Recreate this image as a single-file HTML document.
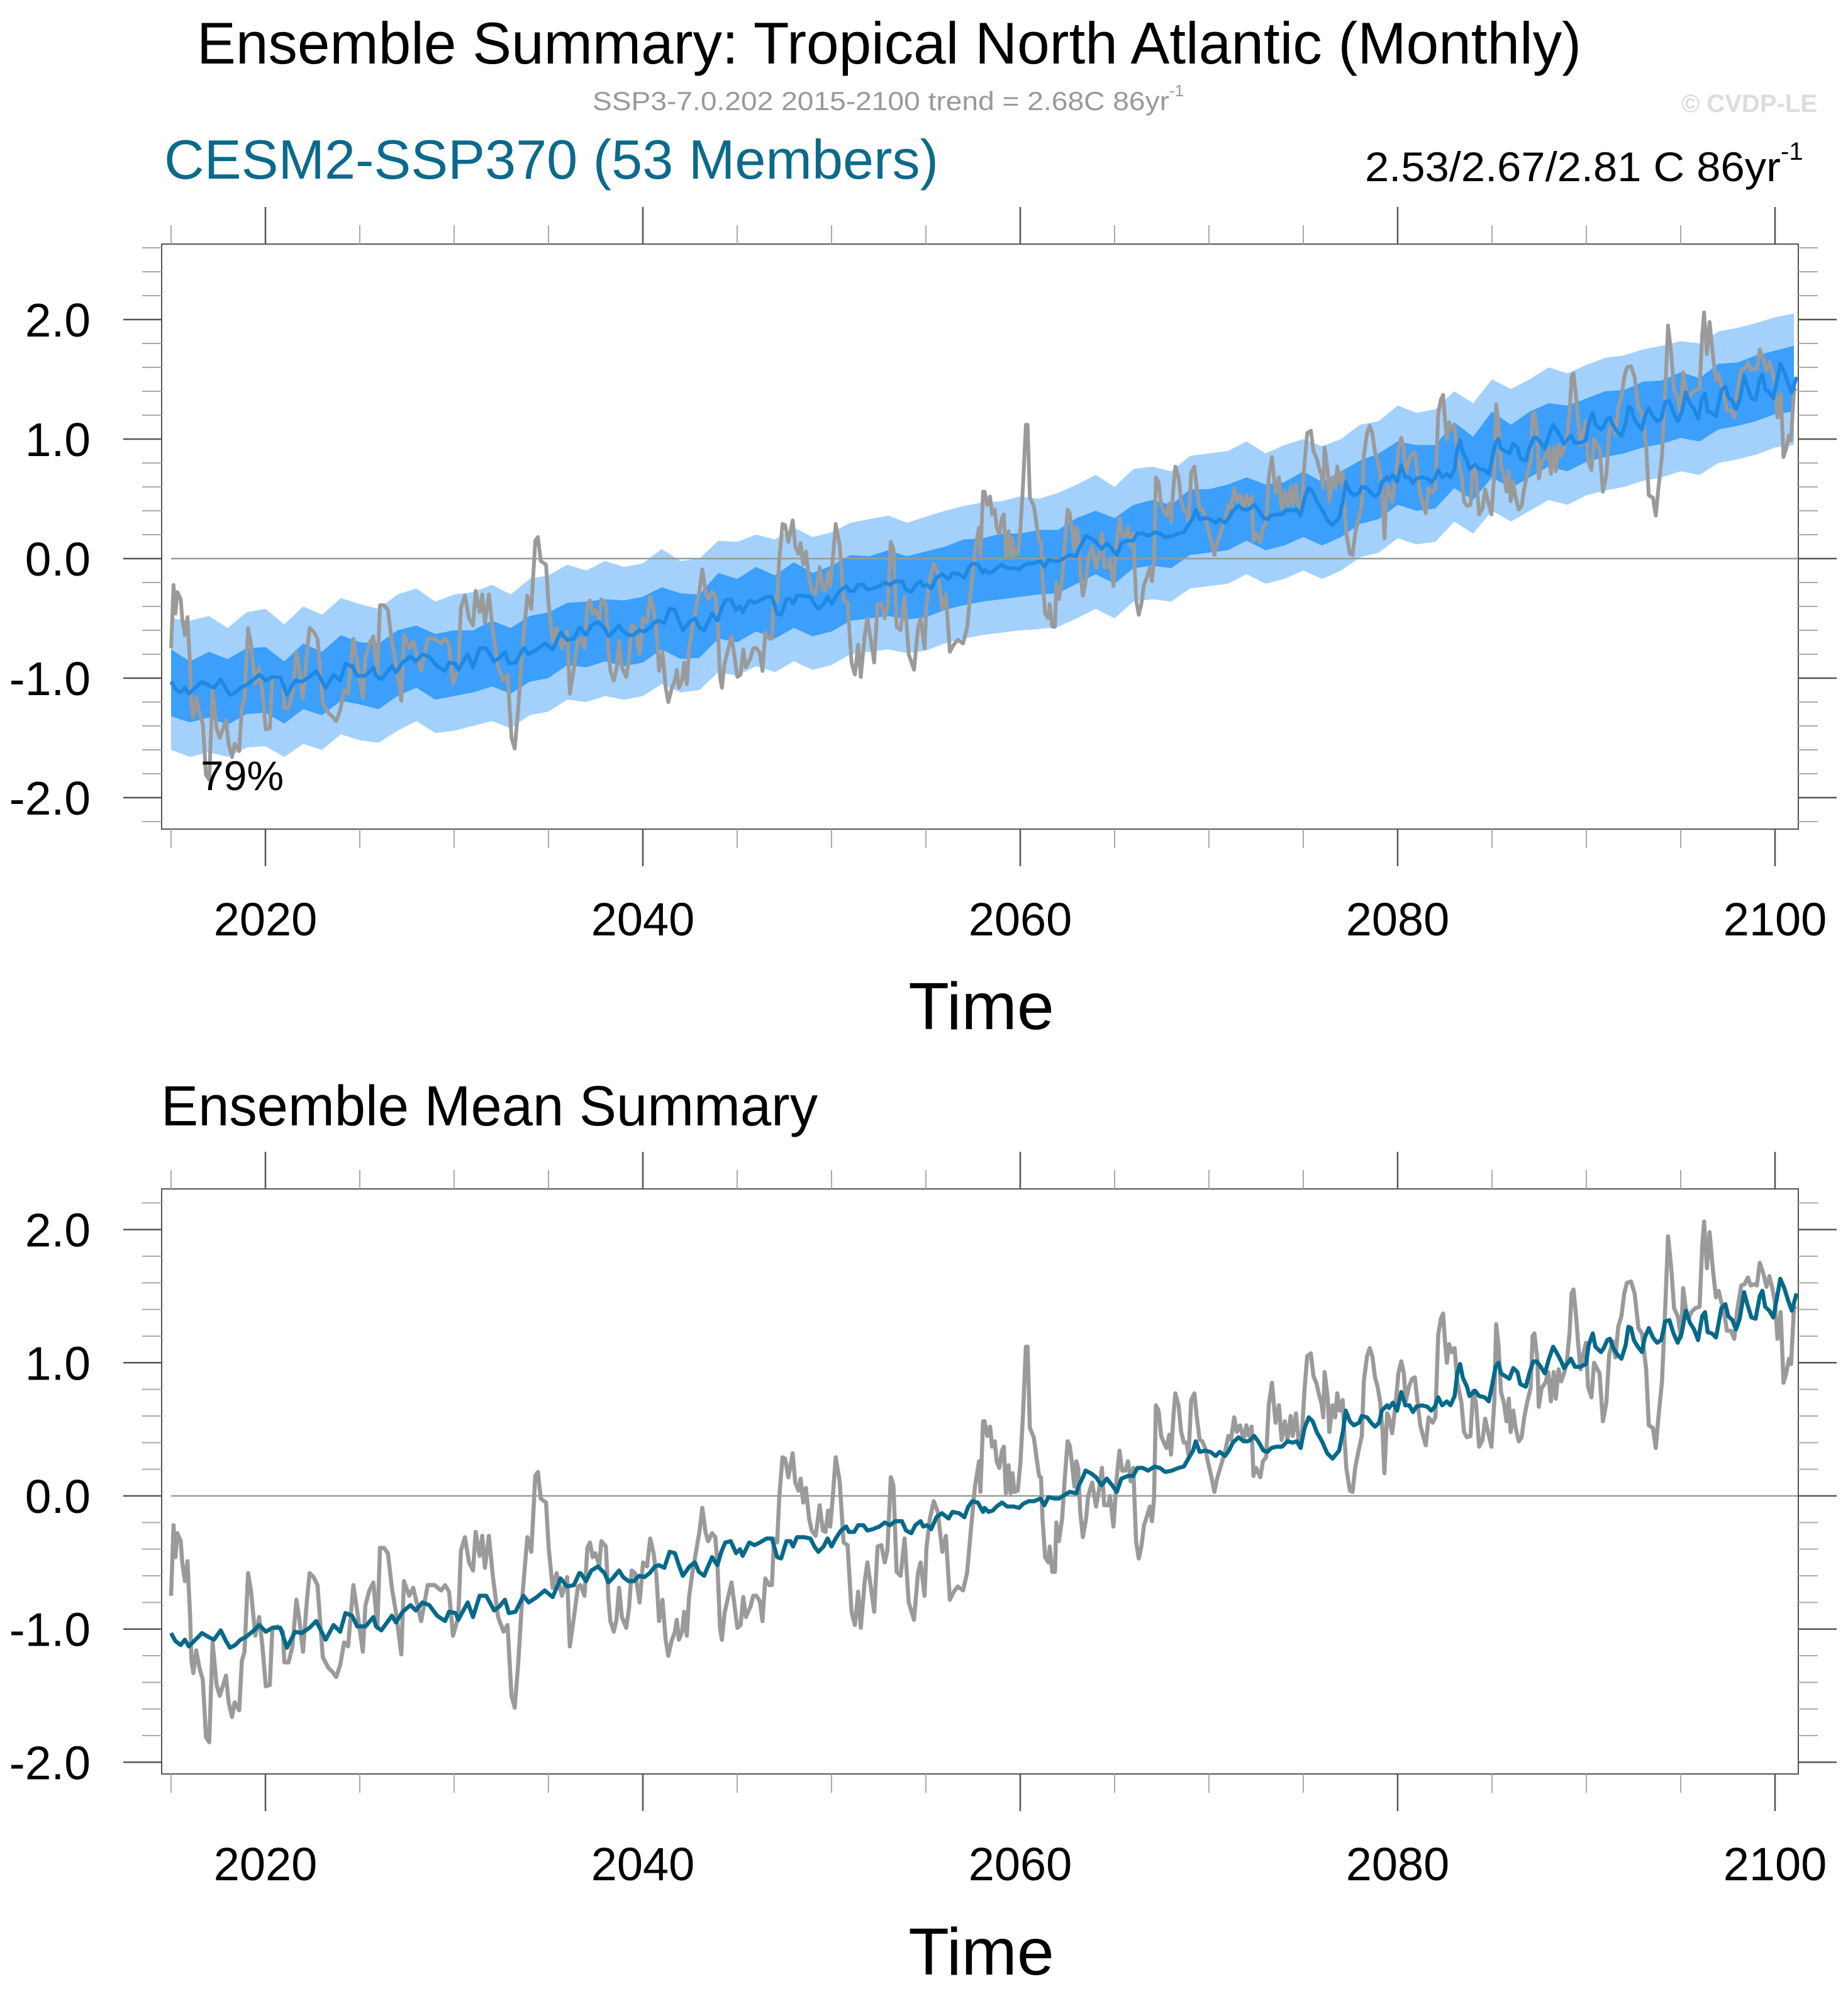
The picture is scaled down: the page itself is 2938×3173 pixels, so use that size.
<!DOCTYPE html>
<html><head><meta charset="utf-8"><title>Ensemble Summary: Tropical North Atlantic</title>
<style>html,body{margin:0;padding:0;background:#fff}svg{display:block;font-family:"Liberation Sans",Arial,sans-serif}</style>
</head><body>
<svg id="chart" xmlns="http://www.w3.org/2000/svg" width="2938" height="3173" viewBox="0 0 2938 3173">
<defs>
<clipPath id="clipTop"><rect x="257" y="388" width="2602" height="930"/></clipPath>
<clipPath id="clipBot"><rect x="257" y="1890" width="2602" height="930"/></clipPath>
</defs>
<rect x="0" y="0" width="2938" height="3173" fill="#fff"/>
<text x="313" y="101" font-size="94" textLength="2201" lengthAdjust="spacingAndGlyphs" fill="#000">Ensemble Summary: Tropical North Atlantic (Monthly)</text>
<text x="942" y="175" font-size="42" fill="#999"><tspan textLength="917" lengthAdjust="spacingAndGlyphs">SSP3-7.0.202 2015-2100 trend = 2.68C 86yr</tspan><tspan font-size="26" dy="-22">-1</tspan></text>
<text x="2889" y="178" font-size="40" font-weight="bold" fill="#dcdcdc" text-anchor="end">© CVDP-LE</text>
<text x="261" y="284" font-size="88" textLength="1231" lengthAdjust="spacingAndGlyphs" fill="#0b6a8b">CESM2-SSP370 (53 Members)</text>
<text x="2170" y="288" font-size="66" fill="#000"><tspan textLength="661" lengthAdjust="spacingAndGlyphs">2.53/2.67/2.81 C 86yr</tspan><tspan font-size="40" dy="-34">-1</tspan></text>
<g id="topPanel"></g>
<text x="319" y="1256" font-size="66" fill="#000">79%</text>
<text x="1560" y="1636" font-size="106" text-anchor="middle" fill="#000">Time</text>
<text x="256" y="1789" font-size="90" textLength="1044" lengthAdjust="spacingAndGlyphs" fill="#000">Ensemble Mean Summary</text>
<g id="botPanel"></g>
<text x="1560" y="3139" font-size="106" text-anchor="middle" fill="#000">Time</text>
</svg>
<script>
const obsYears=[
2015.0,2015.13,2015.23,2015.33,2015.51,2015.59,2015.73,2015.87,2016.01,2016.08,2016.18,2016.33,2016.5,2016.68,2016.85,2017.02,2017.2,2017.41,2017.58,2017.91,2018.05,2018.23,2018.37,2018.61,2018.75,2018.89,2019.08,2019.24,2019.46,2019.67,2019.84,2020.02,2020.23,2020.37,2020.65,2020.93,2021.0,2021.22,2021.43,2021.64,2021.78,2021.99,2022.2,2022.34,2022.55,2022.76,2023.04,2023.33,2023.54,2023.75,2023.96,2024.17,2024.38,2024.66,2024.94,2025.16,2025.3,2025.51,2025.72,2025.93,2026.07,2026.28,2026.49,2026.7,2026.92,2027.2,2027.34,2027.62,2027.83,2028.25,2028.6,2028.96,2029.31,2029.52,2029.73,2029.94,2030.22,2030.36,2030.57,2030.79,2031.0,2031.14,2031.35,2031.49,2031.63,2031.84,2032.05,2032.33,2032.62,2032.83,2033.04,2033.21,2033.39,2033.6,2033.88,2034.09,2034.3,2034.44,2034.59,2034.87,2035.01,2035.22,2035.43,2035.71,2035.99,2036.13,2036.35,2036.56,
2036.7,2036.91,2037.06,2037.2,2037.34,2037.48,2037.69,2037.8,2038.04,2038.18,2038.28,2038.46,2038.6,2038.74,2038.89,2039.12,2039.27,2039.41,2039.59,2039.83,2040.01,2040.22,2040.39,2040.57,2040.72,2040.86,2041.04,2041.21,2041.35,2041.52,2041.7,2041.8,2041.91,2042.08,2042.19,2042.33,2042.45,2042.62,2042.83,2043.01,2043.15,2043.32,2043.46,2043.67,2043.84,2043.95,2044.09,2044.19,2044.33,2044.52,2044.7,2044.84,2045.01,2045.18,2045.32,2045.46,2045.71,2045.85,2046.02,2046.2,2046.34,2046.49,2046.7,2046.84,2046.95,2047.12,2047.23,2047.4,2047.54,2047.71,2047.94,2048.08,2048.25,2048.36,2048.5,2048.64,2048.81,2048.95,2049.16,2049.37,2049.54,2049.68,2049.82,2049.93,2050.07,2050.22,2050.43,2050.64,2050.85,2051.06,2051.24,2051.41,2051.55,2051.76,2051.9,2052.12,2052.26,2052.44,2052.64,2052.82,2052.96,2053.14,2053.28,2053.45,2053.66,2053.87,2054.09,2054.37,2054.58,2054.72,2054.93,2055.03,2055.21,2055.42,2055.63,2055.87,2056.06,2056.27,2056.48,2056.69,2056.97,2057.18,2057.37,2057.6,2057.82,2057.89,2058.03,
2058.11,2058.25,2058.4,2058.51,2058.65,2058.75,2058.89,2059.03,2059.13,2059.24,2059.38,2059.49,2059.59,2059.69,2059.87,2060.01,2060.15,2060.3,2060.39,2060.51,2060.72,2060.86,2061.0,2061.1,2061.18,2061.32,2061.49,2061.56,2061.7,2061.84,2061.91,2062.05,2062.22,2062.36,2062.51,2062.62,2062.73,2062.87,2062.97,2063.07,2063.18,2063.32,2063.49,2063.6,2063.81,2064.02,2064.17,2064.33,2064.45,2064.66,2064.76,2064.94,2065.12,2065.26,2065.4,2065.57,2065.71,2065.85,2065.99,2066.14,2066.28,2066.42,2066.56,2066.7,2066.87,2066.98,2067.09,2067.19,2067.33,2067.47,2067.61,2067.75,2067.9,2067.99,2068.13,2068.22,2068.39,2068.53,2068.67,2068.81,2068.92,2069.06,2069.23,2069.35,2069.51,2069.65,2069.8,2069.94,2070.15,2070.29,2070.43,2070.64,2070.85,2071.03,2071.17,2071.34,2071.48,2071.65,2071.84,2071.98,2072.12,2072.26,2072.36,2072.5,2072.72,2072.86,2073.03,2073.17,2073.34,2073.53,2073.71,2073.85,2074.02,2074.16,2074.33,2074.44,2074.61,2074.75,2074.89,2075.07,2075.21,2075.4,2075.54,2075.71,2075.85,2075.96,2076.06,2076.13,2076.3,2076.38,2076.55,2076.69,2076.8,2076.94,2077.09,2077.18,2077.28,2077.47,2077.61,2077.75,2077.93,2078.1,2078.21,2078.38,2078.52,2078.66,2078.8,2078.94,2079.08,2079.2,2079.3,2079.44,
2079.54,2079.71,2079.9,2080.04,2080.19,2080.33,2080.43,2080.62,2080.77,2080.91,2081.06,2081.2,2081.35,2081.49,2081.64,2081.86,2082.0,2082.15,2082.29,2082.41,2082.51,2082.61,2082.73,2082.87,2083.02,2083.16,2083.38,2083.52,2083.67,2083.86,2084.0,2084.15,2084.32,2084.5,2084.64,2084.79,2084.97,2085.12,2085.22,2085.34,2085.48,2085.63,2085.77,2085.89,2085.99,2086.13,2086.24,2086.42,2086.57,2086.71,2086.86,2087.05,2087.15,2087.25,2087.4,2087.48,2087.63,2087.83,2087.98,2088.12,2088.27,2088.38,2088.53,2088.67,2088.82,2088.96,2089.11,2089.22,2089.32,2089.47,2089.57,2089.69,2089.83,2089.98,2090.09,2090.27,2090.41,2090.59,2090.7,2090.88,2091.06,2091.21,2091.4,2091.54,2091.69,2091.86,2092.01,2092.15,2092.37,2092.56,2092.76,2092.95,2093.17,2093.31,2093.53,2093.68,2093.82,2094.01,2094.18,2094.33,2094.5,2094.65,2094.84,2095.02,2095.13,2095.27,2095.42,2095.56,2095.78,2096.0,2096.14,2096.24,2096.39,2096.53,2096.72,2096.87,2097.01,2097.16,2097.3,2097.45,2097.66,2097.84,2097.98,2098.21,2098.39,2098.56,2098.71,2098.9,2099.04,2099.19,2099.38,2099.55,2099.7,2099.84,2099.99,2100.13,2100.3,2100.45,2100.59,2100.74,2100.85,2101.0,2101.14];
const obsVals=[
-0.75,-0.22,-0.46,-0.28,-0.34,-0.5,-0.64,-0.49,-0.91,-1.24,-1.33,-1.16,-1.29,-1.38,-1.81,-1.85,-1.1,-1.42,-1.5,-1.35,-1.55,-1.66,-1.55,-1.61,-1.24,-1.17,-0.58,-0.72,-1.05,-0.91,-1.13,-1.43,-1.42,-0.99,-0.98,-1.02,-1.25,-1.25,-1.13,-0.78,-0.91,-1.17,-0.78,-0.58,-0.61,-0.67,-1.21,-1.29,-1.32,-1.36,-1.27,-1.1,-1.13,-0.67,-0.94,-1.17,-0.82,-0.71,-0.65,-0.99,-0.39,-0.39,-0.43,-0.69,-0.88,-1.19,-0.64,-0.75,-0.69,-0.94,-0.67,-0.67,-0.71,-0.67,-0.72,-1.05,-0.91,-0.41,-0.31,-0.5,-0.56,-0.27,-0.45,-0.3,-0.54,-0.3,-0.6,-0.91,-1.02,-0.97,-1.5,-1.59,-1.27,-0.78,-0.31,-0.42,0.15,0.18,-0.02,-0.05,-0.39,-0.69,-0.58,-0.75,-0.61,-1.13,-0.91,-0.68,
-0.67,-0.75,-0.39,-0.35,-0.46,-0.43,-0.52,-0.34,-0.38,-0.78,-0.94,-1.02,-0.93,-0.69,-0.91,-0.99,-0.84,-0.56,-0.58,-0.8,-0.5,-0.53,-0.32,-0.43,-0.6,-0.94,-0.78,-1.08,-1.2,-1.09,-1.02,-0.93,-1.08,-1.02,-0.87,-1.05,-0.76,-0.58,-0.41,-0.26,-0.09,-0.27,-0.34,-0.28,-0.31,-0.5,-0.99,-1.08,-0.88,-0.76,-0.65,-0.8,-0.99,-0.97,-0.76,-0.91,-0.83,-0.75,-0.75,-0.79,-0.94,-0.62,-0.67,-0.67,-0.32,-0.35,-0.01,0.29,0.28,0.14,0.32,0.1,0.04,0.13,-0.05,0.06,-0.17,-0.26,-0.3,-0.07,-0.26,-0.27,-0.11,-0.23,0,0.29,0.11,-0.35,-0.37,-0.87,-0.97,-0.72,-0.99,-0.64,-0.5,-0.72,-0.87,-0.38,-0.37,-0.5,-0.41,0.14,0.08,-0.57,-0.6,-0.32,-0.8,-0.93,-0.58,-0.5,-0.75,-0.39,-0.17,-0.04,-0.12,-0.42,-0.3,-0.78,-0.72,-0.68,-0.71,-0.58,-0.28,0.07,0.26,0.03,0.56,
0.56,0.45,0.52,0.37,0.41,0.26,0.21,0.34,0.37,0.02,0.23,0.02,0.17,0.03,0.04,0.25,0.62,1.12,1.12,0.51,0.44,0.29,0.15,0.14,-0.17,-0.46,-0.5,-0.38,-0.57,-0.57,-0.2,-0.34,-0.17,0.13,0.41,0.38,0.26,0.07,0.26,0.21,-0.12,-0.31,-0.17,0,0.1,-0.08,0.04,0.21,-0.07,-0.07,0,-0.23,0.15,0.34,0.19,0.19,0.26,0.11,0.21,-0.34,-0.47,-0.38,-0.22,-0.16,-0.08,-0.19,-0.02,0.68,0.64,0.45,0.4,0.36,0.46,0.31,0.62,0.77,0.68,0.48,0.4,0.4,0.31,0.72,0.77,0.6,0.42,0.41,0.36,0.26,0.13,0.03,0.13,0.23,0.33,0.45,0.42,0.59,0.48,0.53,0.42,0.53,0.45,0.52,0.15,0.21,0.14,0.26,0.29,0.68,0.85,0.55,0.68,0.42,0.56,0.42,0.6,0.45,0.62,0.42,0.37,0.81,1.05,1.07,0.9,0.84,0.75,0.7,0.59,0.93,0.73,0.48,0.68,0.59,0.77,0.64,0.72,0.45,0.21,0.04,0.03,0.21,0.34,0.45,0.86,1.05,1.11,1.05,0.89,0.82,0.7,0.48,0.17,0.62,
0.59,0.47,0.7,0.92,1.01,0.92,0.71,0.83,0.88,0.89,0.7,0.53,0.45,0.38,0.59,0.55,0.59,1.21,1.33,1.37,1.16,1.0,1.14,1.08,1.11,0.86,0.7,0.48,0.44,0.45,0.79,0.7,0.37,0.42,0.58,0.48,0.37,0.7,1.29,1.14,0.78,0.7,0.56,0.73,0.48,0.64,0.52,0.41,0.44,0.59,0.7,0.81,1.2,1.22,1.03,0.67,0.81,0.85,0.93,0.71,0.93,0.73,0.95,0.86,0.92,1.0,1.22,1.52,1.55,1.33,1.14,0.95,1.06,1.15,0.82,0.74,1.0,0.95,0.92,0.56,0.7,1.06,1.16,1.04,1.27,1.35,1.52,1.6,1.61,1.52,1.26,1.22,0.95,0.53,0.51,0.36,0.59,0.86,1.41,1.95,1.71,1.41,1.35,1.19,1.56,1.41,1.33,1.38,1.41,1.42,1.87,2.06,1.71,1.98,1.68,1.49,1.54,1.45,1.38,1.24,1.24,1.18,1.38,1.58,1.59,1.64,1.58,1.59,1.58,1.75,1.67,1.57,1.65,1.57,1.46,1.18,1.38,0.85,0.92,1.03,0.99,1.41,1.42];
const meanYears=[
2015.0,2015.23,2015.51,2015.73,2015.94,2016.29,2016.64,2016.99,2017.27,2017.63,2017.91,2018.12,2018.4,2018.68,2018.96,2019.39,2019.67,2020.02,2020.37,2020.79,2021.14,2021.57,2021.92,2022.34,2022.69,2023.19,2023.61,2023.96,2024.24,2024.59,2024.87,2025.3,2025.72,2025.86,2026.14,2026.7,2026.92,2027.27,2027.69,2027.97,2028.32,2028.68,2029.1,2029.52,2029.73,2030.08,2030.22,2030.72,2031.0,2031.35,2031.7,2032.12,2032.4,2032.69,2032.9,2033.25,2033.67,2033.95,2034.38,2034.8,2035.22,2035.64,2035.99,2036.35,2036.63,
2036.7,2036.99,2037.27,2037.62,2037.97,2038.18,2038.39,2038.74,2038.96,2039.24,2039.52,2039.8,2040.08,2040.36,2040.64,2040.86,2041.14,2041.42,2041.7,2041.91,2042.12,2042.47,2042.76,2042.97,2043.25,2043.39,2043.67,2043.95,2044.16,2044.37,2044.66,2044.94,2045.15,2045.29,2045.64,2045.92,2046.2,2046.56,2046.84,2047.12,2047.33,2047.61,2047.82,2047.96,2048.17,2048.53,2048.88,2049.09,2049.3,2049.58,2049.79,2050.0,2050.22,2050.5,2050.78,2050.92,2051.2,2051.41,2051.69,2051.9,2052.19,2052.54,2052.82,2053.1,2053.38,2053.73,2053.95,2054.23,2054.44,2054.72,2054.86,2055.07,2055.28,2055.56,2055.85,2056.2,2056.41,2056.76,2057.04,2057.25,2057.46,2057.75,2058.03,
2058.11,2058.32,2058.54,2058.75,2059.03,2059.31,2059.66,2059.94,2060.15,2060.44,2060.72,2061.07,2061.28,2061.49,2061.84,2062.05,2062.27,2062.62,2062.97,2063.11,2063.32,2063.46,2063.74,2064.02,2064.31,2064.59,2064.87,2065.12,2065.36,2065.71,2065.99,2066.21,2066.49,2066.77,2067.12,2067.4,2067.68,2068.04,2068.39,2068.67,2068.95,2069.16,2069.3,2069.51,2069.8,2070.08,2070.36,2070.57,2070.85,2071.06,2071.27,2071.56,2071.84,2072.05,2072.19,2072.4,2072.61,2072.89,2073.1,2073.31,2073.6,2073.88,2074.16,2074.44,2074.65,2074.86,2075.07,2075.29,2075.5,2075.71,2075.99,2076.27,2076.55,2076.9,2077.11,2077.25,2077.47,2077.68,2077.96,2078.1,2078.38,2078.59,2078.8,2079.02,2079.16,2079.44,
2079.54,2079.75,2079.97,2080.19,2080.41,2080.62,2080.81,2080.99,2081.28,2081.57,2081.78,2081.97,2082.15,2082.36,2082.61,2082.8,2083.02,2083.16,2083.31,2083.45,2083.67,2083.81,2084.1,2084.32,2084.61,2084.83,2085.02,2085.19,2085.34,2085.48,2085.7,2085.92,2086.13,2086.35,2086.5,2086.79,2087.0,2087.19,2087.37,2087.58,2087.8,2088.02,2088.24,2088.45,2088.67,2088.82,2089.03,2089.18,2089.4,2089.69,2089.98,2090.12,2090.34,2090.48,2090.78,2090.92,2091.11,2091.25,2091.43,2091.65,2091.86,2092.08,2092.23,2092.37,2092.52,2092.73,2092.95,2093.1,2093.31,2093.53,2093.75,2093.97,2094.18,2094.4,2094.62,2094.84,2095.05,2095.27,2095.49,2095.71,2095.92,2096.14,2096.29,2096.43,2096.65,2096.87,2097.16,2097.37,2097.52,2097.74,2097.93,2098.13,2098.36,2098.53,2098.75,2098.97,2099.19,2099.33,2099.48,2099.7,2099.91,2100.13,2100.28,2100.49,2100.71,2100.89,2101.14];
const meanVals=[
-1.03,-1.09,-1.12,-1.08,-1.13,-1.08,-1.03,-1.06,-1.08,-1.01,-1.09,-1.14,-1.12,-1.08,-1.06,-1.01,-0.97,-1.02,-0.99,-0.99,-1.14,-1.02,-1.03,-0.99,-0.94,-1.08,-0.97,-1.02,-0.88,-0.9,-0.98,-0.98,-0.91,-0.98,-1.01,-0.9,-0.95,-0.87,-0.82,-0.86,-0.8,-0.82,-0.9,-0.94,-0.87,-0.88,-0.93,-0.8,-0.91,-0.75,-0.75,-0.86,-0.83,-0.78,-0.88,-0.87,-0.75,-0.8,-0.76,-0.71,-0.76,-0.62,-0.68,-0.67,-0.58,
-0.58,-0.64,-0.56,-0.53,-0.58,-0.65,-0.62,-0.56,-0.61,-0.64,-0.64,-0.6,-0.61,-0.58,-0.53,-0.52,-0.54,-0.42,-0.43,-0.52,-0.6,-0.53,-0.5,-0.57,-0.6,-0.55,-0.46,-0.52,-0.42,-0.35,-0.34,-0.43,-0.4,-0.45,-0.35,-0.37,-0.35,-0.32,-0.32,-0.46,-0.47,-0.34,-0.34,-0.38,-0.31,-0.31,-0.32,-0.38,-0.42,-0.38,-0.32,-0.38,-0.32,-0.26,-0.23,-0.27,-0.27,-0.22,-0.22,-0.26,-0.25,-0.23,-0.2,-0.22,-0.19,-0.19,-0.26,-0.28,-0.22,-0.19,-0.23,-0.22,-0.25,-0.16,-0.13,-0.17,-0.12,-0.13,-0.16,-0.08,-0.04,-0.05,-0.12,
-0.09,-0.12,-0.11,-0.08,-0.05,-0.08,-0.08,-0.09,-0.06,-0.04,-0.04,-0.02,-0.07,-0.01,-0.02,-0.02,0,0.03,0.02,0.08,0.14,0.19,0.17,0.14,0.08,0.13,0.08,0.03,0.13,0.15,0.15,0.21,0.21,0.19,0.22,0.21,0.18,0.19,0.21,0.22,0.29,0.34,0.41,0.33,0.34,0.33,0.3,0.33,0.3,0.34,0.4,0.44,0.41,0.41,0.42,0.45,0.41,0.34,0.33,0.36,0.37,0.37,0.41,0.4,0.41,0.36,0.51,0.59,0.56,0.48,0.41,0.32,0.28,0.34,0.49,0.64,0.56,0.53,0.55,0.6,0.59,0.55,0.52,0.55,0.64,0.68,
0.66,0.7,0.64,0.78,0.68,0.68,0.63,0.67,0.68,0.67,0.64,0.67,0.74,0.68,0.71,0.68,0.75,0.92,0.99,0.89,0.82,0.75,0.79,0.75,0.74,0.71,0.84,0.97,1.0,0.92,0.9,0.88,0.96,0.93,0.84,0.82,0.93,1.01,1.01,0.97,0.92,1.03,1.12,1.07,1.01,0.96,1.0,1.03,0.97,0.97,0.99,1.13,1.22,1.12,1.08,1.11,1.17,1.18,1.11,1.06,1.03,1.13,1.27,1.26,1.17,1.12,1.08,1.19,1.26,1.19,1.15,1.17,1.31,1.32,1.22,1.15,1.22,1.39,1.3,1.25,1.17,1.35,1.38,1.23,1.22,1.19,1.41,1.44,1.35,1.32,1.25,1.33,1.53,1.44,1.34,1.33,1.5,1.54,1.42,1.39,1.34,1.51,1.63,1.56,1.46,1.39,1.52];
const bandStartYear=2015;
const lightHi=[-0.50,-0.52,-0.48,-0.58,-0.45,-0.42,-0.55,-0.40,-0.47,-0.33,-0.38,-0.42,-0.30,-0.25,-0.36,-0.30,-0.28,-0.22,-0.30,-0.17,-0.14,-0.05,-0.10,-0.02,-0.07,-0.04,0.08,-0.02,0.00,0.15,0.14,0.20,0.16,0.26,0.18,0.22,0.30,0.33,0.36,0.30,0.35,0.40,0.44,0.47,0.48,0.52,0.50,0.55,0.62,0.70,0.60,0.75,0.77,0.73,0.86,0.88,0.90,0.98,0.88,0.95,1.00,0.94,1.00,1.12,1.15,1.28,1.22,1.25,1.40,1.30,1.50,1.42,1.50,1.60,1.55,1.62,1.68,1.70,1.75,1.78,1.82,1.80,1.90,1.93,1.97,2.02,2.05];
const lightLo=[-1.60,-1.66,-1.62,-1.66,-1.58,-1.57,-1.66,-1.55,-1.60,-1.47,-1.52,-1.54,-1.44,-1.36,-1.46,-1.44,-1.40,-1.36,-1.42,-1.31,-1.28,-1.18,-1.20,-1.15,-1.18,-1.15,-1.05,-1.12,-1.10,-0.95,-0.98,-0.90,-0.95,-0.86,-0.93,-0.89,-0.80,-0.78,-0.76,-0.79,-0.77,-0.71,-0.67,-0.64,-0.62,-0.60,-0.59,-0.57,-0.50,-0.42,-0.50,-0.36,-0.34,-0.36,-0.25,-0.23,-0.21,-0.13,-0.21,-0.17,-0.10,-0.17,-0.10,0.01,0.05,0.17,0.12,0.14,0.31,0.21,0.40,0.31,0.40,0.49,0.45,0.53,0.57,0.60,0.65,0.68,0.73,0.70,0.80,0.83,0.87,0.93,0.95];
const darkHi=[-0.76,-0.86,-0.78,-0.84,-0.75,-0.74,-0.86,-0.71,-0.78,-0.64,-0.70,-0.71,-0.60,-0.56,-0.63,-0.60,-0.60,-0.52,-0.58,-0.48,-0.45,-0.37,-0.36,-0.34,-0.35,-0.32,-0.24,-0.29,-0.30,-0.12,-0.17,-0.07,-0.14,-0.03,-0.12,-0.06,0.03,0.02,0.07,0.02,0.06,0.10,0.16,0.17,0.21,0.21,0.24,0.24,0.34,0.40,0.34,0.45,0.49,0.45,0.58,0.58,0.62,0.68,0.62,0.64,0.73,0.64,0.73,0.82,0.88,0.98,0.95,0.95,1.14,1.02,1.23,1.12,1.23,1.30,1.28,1.34,1.40,1.41,1.48,1.49,1.56,1.51,1.63,1.64,1.70,1.74,1.78];
const darkLo=[-1.32,-1.37,-1.33,-1.39,-1.30,-1.29,-1.38,-1.26,-1.31,-1.19,-1.22,-1.26,-1.15,-1.08,-1.18,-1.15,-1.12,-1.07,-1.13,-1.03,-1.00,-0.89,-0.91,-0.86,-0.90,-0.87,-0.76,-0.84,-0.83,-0.67,-0.70,-0.61,-0.67,-0.58,-0.65,-0.61,-0.52,-0.50,-0.48,-0.51,-0.49,-0.43,-0.39,-0.36,-0.34,-0.32,-0.30,-0.29,-0.21,-0.13,-0.21,-0.08,-0.06,-0.08,0.03,0.05,0.07,0.15,0.07,0.11,0.18,0.11,0.18,0.29,0.33,0.45,0.40,0.42,0.59,0.49,0.68,0.59,0.68,0.77,0.73,0.81,0.85,0.88,0.93,0.96,1.01,0.98,1.08,1.11,1.15,1.21,1.23];
const xTickYears=[2015,2020,2025,2030,2035,2040,2045,2050,2055,2060,2065,2070,2075,2080,2085,2090,2095,2100];
const xTickLabels=["2020","2040","2060","2080","2100"];
const yTickLabels=["2.0","1.0","0.0","-1.0","-2.0"];

const NS="http://www.w3.org/2000/svg";
const FX0=257, FX1=2859;
function xScale(yr){return 272+(yr-2015)*30.0;}
function mk(tag,attrs,parent){const e=document.createElementNS(NS,tag);for(const k in attrs)e.setAttribute(k,attrs[k]);parent.appendChild(e);return e;}
function linePts(ys,vs,yS){const n=Math.min(ys.length,vs.length);const p=[];for(let i=0;i<n;i++)p.push(xScale(ys[i]).toFixed(1)+","+yS(vs[i]).toFixed(1));return p.join(" ");}

function drawAxes(g,top,bot,yS,vMin,vMax,labelBase){
  const frame=mk("rect",{x:FX0,y:top,width:FX1-FX0,height:bot-top,fill:"none",stroke:"#555","stroke-width":2},g);
  
  
  xTickYears.forEach(yr=>{
    const x=xScale(yr); const major=(yr%20===0); const len=major?59:30; const col=major?"#555":"#aaa";
    const t1=mk("line",{x1:x,x2:x,y1:top-len,y2:top,stroke:col,"stroke-width":major?2.5:2},g);
    
    
    const t2=mk("line",{x1:x,x2:x,y1:bot,y2:bot+len,stroke:col,"stroke-width":major?2.5:2},g);
    
    
  });
  xTickLabels.forEach(lbl=>{
    const t=mk("text",{x:xScale(+lbl),y:labelBase,"font-size":74,"text-anchor":"middle",fill:"#000"},g);
    t.textContent=lbl;
    
    
  });
  for(let k=Math.ceil(vMin*5);k<=Math.floor(vMax*5);k++){
    const v=k/5; const y=yS(v); const major=(k%5===0); const len=major?61:31; const col=major?"#555":"#aaa";
    const a=mk("line",{x1:FX0-len,x2:FX0,y1:y,y2:y,stroke:col,"stroke-width":major?2.5:2},g);
    
    
    const b=mk("line",{x1:FX1,x2:FX1+len,y1:y,y2:y,stroke:col,"stroke-width":major?2.5:2},g);
    
    
  }
  yTickLabels.forEach(lbl=>{
    const t=mk("text",{x:144,y:yS(+lbl)+27,"font-size":75,"text-anchor":"end",fill:"#000"},g);
    t.textContent=lbl;
    
    
  });
}

function zeroLine(g,yS){
  const z=mk("line",{x1:xScale(2015),x2:xScale(2101.5),y1:yS(0),y2:yS(0),stroke:"#9a9a9a","stroke-width":2.5},g);
  
  
}

(function(){
  const g=document.getElementById("topPanel");
  const yS=v=>888-v*190;
  const data=mk("g",{"clip-path":"url(#clipTop)"},g);
  
  
  function band(hi,lo,color,name){
    const up=[],dn=[];
    for(let i=0;i<hi.length;i++){const x=xScale(bandStartYear+i);up.push(x.toFixed(1)+","+yS(hi[i]).toFixed(1));}
    for(let i=lo.length-1;i>=0;i--){const x=xScale(bandStartYear+i);dn.push(x.toFixed(1)+","+yS(lo[i]).toFixed(1));}
    const p=mk("polygon",{points:up.concat(dn).join(" "),fill:color,stroke:"none"},data);
    
    
  }
  band(lightHi,lightLo,"#a3d1fc","ensemble-range-band");
  band(darkHi,darkLo,"#3b9ffb","ensemble-interquartile-band");
  zeroLine(data,yS);
  const o=mk("polyline",{points:linePts(obsYears,obsVals,yS),fill:"none",stroke:"#9a9a9a","stroke-width":6,"stroke-linejoin":"round"},data);
  
  
  const m=mk("polyline",{points:linePts(meanYears,meanVals,yS),fill:"none",stroke:"#1e88e5","stroke-width":6,"stroke-linejoin":"round"},data);
  
  
  drawAxes(g,388,1318,yS,-2.26,2.63,1487);
})();

(function(){
  const g=document.getElementById("botPanel");
  const yS=v=>2378-v*211.7;
  const data=mk("g",{"clip-path":"url(#clipBot)"},g);
  
  
  zeroLine(data,yS);
  const o=mk("polyline",{points:linePts(obsYears,obsVals,yS),fill:"none",stroke:"#9a9a9a","stroke-width":6.5,"stroke-linejoin":"round"},data);
  
  
  const m=mk("polyline",{points:linePts(meanYears,meanVals,yS),fill:"none",stroke:"#05698a","stroke-width":6.5,"stroke-linejoin":"round"},data);
  
  
  drawAxes(g,1890,2820,yS,-2.09,2.305,2989);
})();
</script>
</body></html>
